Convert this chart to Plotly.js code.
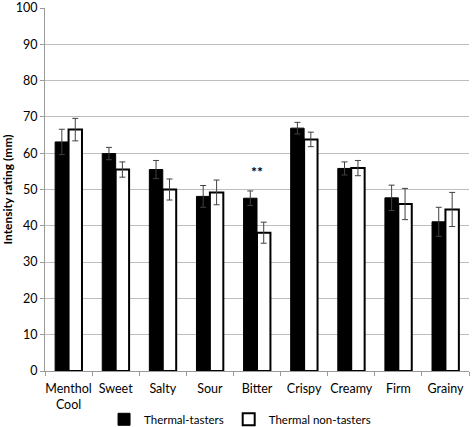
<!DOCTYPE html>
<html>
<head>
<meta charset="utf-8">
<script src="https://cdn.plot.ly/plotly-3.0.1.min.js"></script>
<style>html,body{margin:0;padding:0;background:#fff;}#chart{width:472px;height:427px;}</style>
</head>
<body>
<div id="chart"></div>
<script>
var categories = ["Menthol<br>Cool", "Sweet", "Salty", "Sour", "Bitter", "Crispy", "Creamy", "Firm", "Grainy"];
var tastersValues = [63.1, 59.9, 55.5, 48.1, 47.6, 66.9, 55.8, 47.7, 41.1];
var tastersErrors = [3.5, 1.7, 2.5, 3.0, 2.0, 1.6, 1.8, 3.5, 4.0];
var nonTastersValues = [66.5, 55.5, 50.0, 49.2, 38.1, 63.8, 55.9, 46.0, 44.5];
var nonTastersErrors = [3.1, 2.1, 2.9, 3.4, 2.9, 2.0, 2.1, 4.3, 4.7];
var seriesNames = ["Thermal-tasters", "Thermal non-tasters"];
var yTicks = [0, 10, 20, 30, 40, 50, 60, 70, 80, 90, 100];
var sigCategory = "Bitter";
var sigLabel = "**";
var sigY = 55;

var font = "Lato, 'Open Sans', 'Liberation Sans', sans-serif";
var traces = [
  {
    type: "bar", name: seriesNames[0], x: categories, y: tastersValues,
    marker: {color: "#000000", line: {color: "#000000", width: 1}},
    error_y: {type: "data", array: tastersErrors, visible: true, color: "#404040", thickness: 1, width: 3}
  },
  {
    type: "bar", name: seriesNames[1], x: categories, y: nonTastersValues,
    marker: {color: "#ffffff", line: {color: "#000000", width: 2}},
    error_y: {type: "data", array: nonTastersErrors, visible: true, color: "#404040", thickness: 1, width: 3}
  }
];
var layout = {
  width: 472, height: 427,
  margin: {l: 45, r: 3, t: 8, b: 56, autoexpand: false},
  paper_bgcolor: "#ffffff", plot_bgcolor: "#ffffff",
  font: {family: font, size: 12.5, color: "#000000"},
  barmode: "group", bargap: 0.43, bargroupgap: 0,
  showlegend: true,
  legend: {orientation: "h", x: 0.46, xanchor: "center", y: -0.133, yanchor: "middle",
           font: {family: font, size: 11.5, color: "#000"}, itemwidth: 30, traceorder: "normal"},
  xaxis: {
    type: "category", tickson: "boundaries", ticks: "outside", ticklen: 4, tickcolor: "#9a9a9a",
    showline: true, linecolor: "#9a9a9a", linewidth: 1, showgrid: false, tickangle: 0,
    automargin: false, ticklabelstandoff: 6,
    tickfont: {family: font, size: 12.5, color: "#000"}
  },
  yaxis: {
    range: [0, 100], tickvals: yTicks, ticks: "outside", ticklen: 4, tickcolor: "#9a9a9a",
    showline: true, linecolor: "#9a9a9a", linewidth: 1, automargin: false, ticklabeloverflow: "allow",
    showgrid: true, gridcolor: "#bdbdbd", gridwidth: 1, zeroline: false,
    tickfont: {family: font, size: 12.5, color: "#000"},
    title: {text: "<b>Intensity rating (mm)</b>", font: {family: font, size: 12, color: "#000"}, standoff: 5}
  },
  annotations: [
    {x: sigCategory, y: sigY, xref: "x", yref: "y", text: "<b>" + sigLabel + "</b>", showarrow: false,
     font: {family: font, size: 14, color: "#000"}}
  ]
};
Plotly.newPlot("chart", traces, layout, {displayModeBar: false, staticPlot: true});
</script>
</body>
</html>
